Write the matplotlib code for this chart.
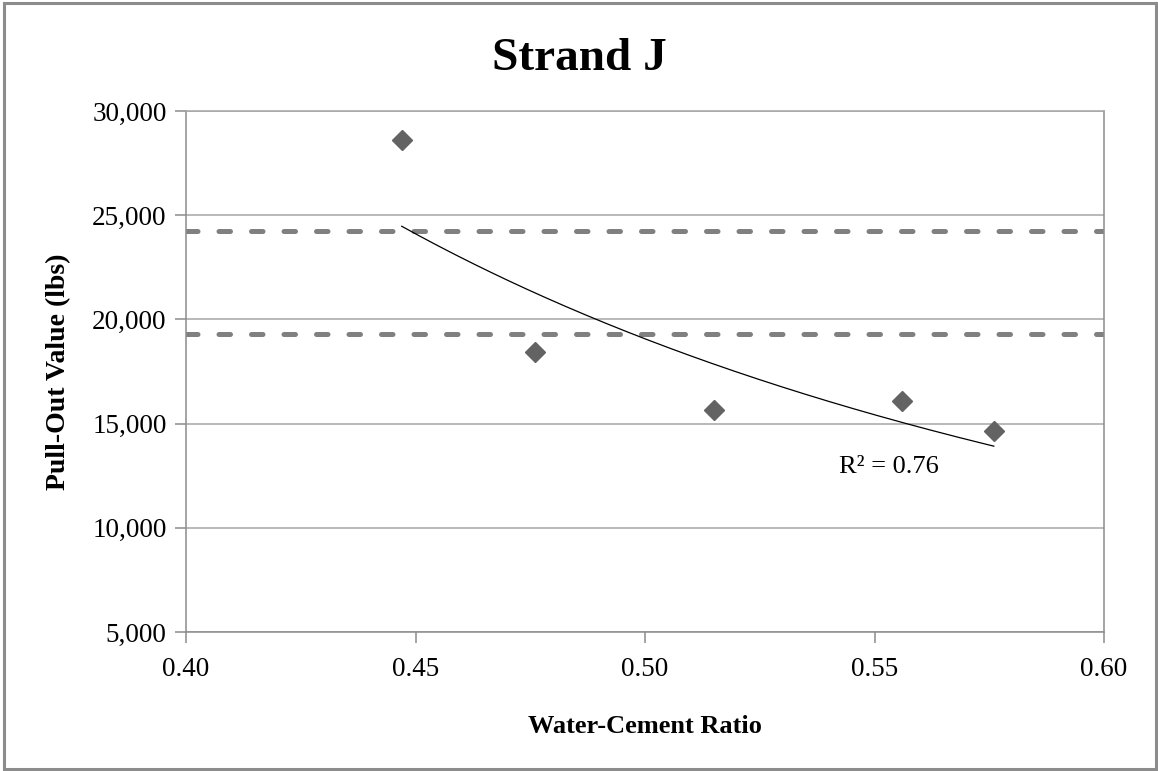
import numpy as np
import matplotlib
matplotlib.use("Agg")
import matplotlib.pyplot as plt
from matplotlib.patches import Rectangle

# ── Data ─────────────────────────────────────────────────────────────────────
wc_ratio = [0.447, 0.476, 0.515, 0.556, 0.576]
pull_out = [28600, 18450, 15650, 16100, 14650]
upper_limit = 24250
lower_limit = 19300
r2_label = "R\u00b2 = 0.76"

x_ticks = [0.40, 0.45, 0.50, 0.55, 0.60]
y_ticks = [5000, 10000, 15000, 20000, 25000, 30000]

# ── Style ────────────────────────────────────────────────────────────────────
SERIF = ["Liberation Serif", "DejaVu Serif"]
AXIS_GRAY = "#8c8c8c"
GRID_GRAY = "#a6a6a6"
MARKER_GRAY = "#636363"
DASH_GRAY = "#808080"

plt.rcParams["font.family"] = SERIF

fig = plt.figure(figsize=(11.58, 7.71), dpi=100)
ax = fig.add_axes([186 / 1158, 1 - 632 / 771, 918 / 1158, 521 / 771])

# power trend line (Excel style), fitted in log space
b, ln_a = np.polyfit(np.log(wc_ratio), np.log(pull_out), 1)
xs = np.linspace(min(wc_ratio), max(wc_ratio), 200)
ax.plot(xs, np.exp(ln_a) * xs ** b, color="black", lw=0.9, zorder=3)

# limit lines
for lim in (upper_limit, lower_limit):
    ax.axhline(lim, color=DASH_GRAY, lw=3.6, dashes=(2.3, 4.2),
               dash_capstyle="round", zorder=2)

ax.plot(wc_ratio, pull_out, linestyle="none", marker="D", markersize=10,
        color=MARKER_GRAY, zorder=4)

ax.text(0.5423, 12650, r2_label, fontsize=19, ha="left", va="baseline")

ax.set_xlim(0.40, 0.60)
ax.set_ylim(5000, 30000)
ax.set_xticks(x_ticks)
ax.set_xticklabels([f"{v:.2f}" for v in x_ticks])
ax.set_yticks(y_ticks)
ax.set_yticklabels([f"{v:,}" for v in y_ticks])
ax.yaxis.grid(True, color=GRID_GRAY, lw=1.1)
ax.set_axisbelow(True)
ax.tick_params(axis="both", direction="out", length=8, width=1.1,
               color=AXIS_GRAY, labelsize=19.5)
ax.tick_params(axis="x", pad=10)
ax.tick_params(axis="y", pad=6)
for side in ("left", "bottom", "right", "top"):
    ax.spines[side].set_color(AXIS_GRAY)
    ax.spines[side].set_linewidth(1.1)
ax.spines["top"].set_color(GRID_GRAY)

ax.set_xlabel("Water-Cement Ratio", fontsize=19, fontweight="bold", labelpad=24)
ax.set_ylabel("Pull-Out Value (lbs)", fontsize=20, fontweight="bold", labelpad=15)

fig.text(0.5, 1 - 59 / 771, "Strand J", fontsize=34, fontweight="bold",
         ha="center", va="center")

# chart-area border
fig.patches.append(Rectangle((4 / 1158, 2 / 771), 1152 / 1158, 766 / 771,
                             transform=fig.transFigure, fill=False,
                             edgecolor=AXIS_GRAY, lw=2.2))

fig.savefig("out.png", dpi=100)
